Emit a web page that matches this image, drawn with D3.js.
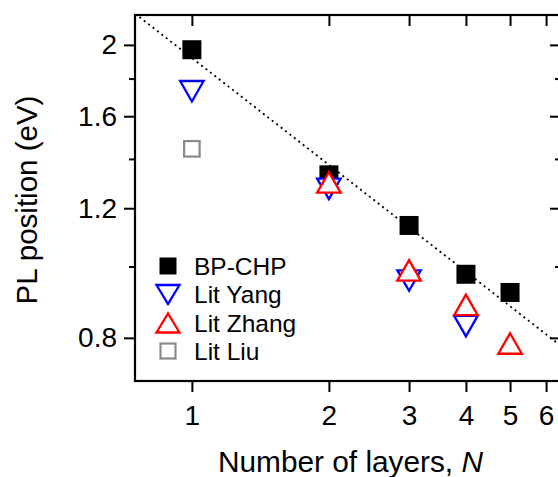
<!DOCTYPE html>
<html>
<head>
<meta charset="utf-8">
<script src="https://cdn.jsdelivr.net/npm/d3@7"></script>
<style>
  html, body { margin: 0; padding: 0; background: #fff; }
  svg { display: block; }
  text { font-family: "Liberation Sans", Arial, Helvetica, sans-serif; fill: #000; }
</style>
</head>
<body>
<svg id="chart" width="558" height="477"></svg>
<script>
// ---- data ----
const bpN = [1, 2, 3, 4, 5];
const bpE = [1.97, 1.332, 1.137, 0.976, 0.922];
const yangN = [1, 2, 3, 4];
const yangE = [1.73, 1.275, 0.957, 0.830];
const zhangN = [2, 3, 4, 5];
const zhangE = [1.301, 0.988, 0.887, 0.786];
const liuN = [1];
const liuE = [1.445];
const fitN = [0.75, 6.47];
const fitE = [2.206, 0.780];
const xTicks = [1, 2, 3, 4, 5, 6];
const yMajor = [0.8, 1.2, 1.6, 2.0];
const yMinor = [1.0, 1.4, 1.8];
const yTickLabels = ["0.8", "1.2", "1.6", "2"];
const legendLabels = ["BP-CHP", "Lit Yang", "Lit Zhang", "Lit Liu"];

// ---- layout ----
const L = 135, R = 561, T = 15, B = 381;
const svg = d3.select("#chart");
const x = d3.scaleLog().domain([0.75, 6.47]).range([L, R]);
const y = d3.scaleLog().domain([0.699, 2.196]).range([B, T]);

const defs = svg.append("defs");
defs.append("clipPath").attr("id", "plotclip")
  .append("rect").attr("x", L).attr("y", T).attr("width", R - L).attr("height", B - T);

// fit line (dotted)
svg.append("path")
  .attr("clip-path", "url(#plotclip)")
  .attr("d", d3.line().x(d => x(d[0])).y(d => y(d[1]))(fitN.map((n, i) => [n, fitE[i]])))
  .attr("fill", "none").attr("stroke", "#000").attr("stroke-width", 1.8)
  .attr("stroke-dasharray", "2,3.6");

// axes
const fmt = d => yTickLabels[yMajor.indexOf(d)];
const axB = svg.append("g").attr("transform", `translate(0,${B})`)
  .call(d3.axisBottom(x).tickValues(xTicks).tickFormat(d3.format("d")).tickSizeOuter(0).tickSizeInner(11).tickPadding(13));
const axT = svg.append("g").attr("transform", `translate(0,${T})`)
  .call(d3.axisBottom(x).tickValues(xTicks).tickFormat("").tickSizeOuter(0).tickSizeInner(11));
const axL = svg.append("g").attr("transform", `translate(${L},0)`)
  .call(d3.axisLeft(y).tickValues(yMajor).tickFormat(fmt).tickSizeOuter(0).tickSizeInner(11).tickPadding(7));
const axLm = svg.append("g").attr("transform", `translate(${L},0)`)
  .call(d3.axisLeft(y).tickValues(yMinor).tickFormat("").tickSizeOuter(0).tickSizeInner(6));
const axR = svg.append("g").attr("transform", `translate(${R},0)`)
  .call(d3.axisLeft(y).tickValues(yMajor).tickFormat("").tickSizeOuter(0).tickSizeInner(11).tickPadding(9));
const axRm = svg.append("g").attr("transform", `translate(${R},0)`)
  .call(d3.axisLeft(y).tickValues(yMinor).tickFormat("").tickSizeOuter(0).tickSizeInner(6));
[axB, axT, axL, axLm, axR, axRm].forEach(g => {
  g.attr("font-size", 28).attr("font-family", '"Liberation Sans", Arial, sans-serif');
  g.select(".domain").remove();
  g.selectAll("line").attr("stroke", "#000").attr("stroke-width", 2);
  g.selectAll("text").attr("fill", "#000");
});
// frame
svg.append("rect").attr("x", L).attr("y", T).attr("width", R - L).attr("height", B - T)
  .attr("fill", "none").attr("stroke", "#000").attr("stroke-width", 2.2);

// markers
const SQ = 19, TW = 23.5, TH = 20.5;
const g = svg.append("g").attr("clip-path", "url(#plotclip)");
function sq(sel, nArr, eArr, fill, stroke, size, sw) {
  sel.selectAll(null).data(nArr.map((n, i) => [n, eArr[i]])).enter().append("rect")
    .attr("x", d => x(d[0]) - size / 2).attr("y", d => y(d[1]) - size / 2)
    .attr("width", size).attr("height", size)
    .attr("fill", fill).attr("stroke", stroke).attr("stroke-width", sw);
}
function tri(sel, nArr, eArr, color, down) {
  sel.selectAll(null).data(nArr.map((n, i) => [n, eArr[i]])).enter().append("path")
    .attr("d", d => {
      const cx = x(d[0]), cy = y(d[1]);
      return down
        ? `M${cx - TW / 2},${cy - TH / 2}L${cx + TW / 2},${cy - TH / 2}L${cx},${cy + TH / 2}Z`
        : `M${cx - TW / 2},${cy + TH / 2}L${cx + TW / 2},${cy + TH / 2}L${cx},${cy - TH / 2}Z`;
    })
    .attr("fill", "#fff").attr("stroke", color).attr("stroke-width", 2.3).attr("stroke-linejoin", "miter");
}
sq(g, bpN, bpE, "#000", "none", SQ, 0);
sq(g, liuN, liuE, "#fff", "#8a8a8a", 15.5, 2.2);
tri(g, yangN, yangE, "#0000ff", true);
tri(g, zhangN, zhangE, "#ff0000", false);

// legend
const lgX = 168, lgTextX = 194;
const lgY = [266, 294.5, 323, 351];
const lg = svg.append("g");
lg.append("rect").attr("x", lgX - 8.5).attr("y", lgY[0] - 8.5).attr("width", 17).attr("height", 17).attr("fill", "#000");
lg.append("path").attr("d", `M${lgX - 11.5},${lgY[1] - 9.5}L${lgX + 11.5},${lgY[1] - 9.5}L${lgX},${lgY[1] + 9.5}Z`)
  .attr("fill", "#fff").attr("stroke", "#0000ff").attr("stroke-width", 2.3);
lg.append("path").attr("d", `M${lgX - 11.5},${lgY[2] + 9.5}L${lgX + 11.5},${lgY[2] + 9.5}L${lgX},${lgY[2] - 9.5}Z`)
  .attr("fill", "#fff").attr("stroke", "#ff0000").attr("stroke-width", 2.3);
lg.append("rect").attr("x", lgX - 7.5).attr("y", lgY[3] - 7.5).attr("width", 15).attr("height", 15)
  .attr("fill", "#fff").attr("stroke", "#8a8a8a").attr("stroke-width", 2.2);
lg.selectAll("text.lab").data(legendLabels).enter().append("text")
  .attr("x", lgTextX).attr("y", (d, i) => lgY[i] + 8.8)
  .style("font-size", "24.5px").text(d => d);

// axis titles
const xt = svg.append("text").attr("x", 218).attr("y", 472).style("font-size", "29.8px");
xt.append("tspan").text("Number of layers, ");
xt.append("tspan").style("font-style", "italic").text("N");
svg.append("text").attr("transform", "translate(37,200) rotate(-90)")
  .attr("text-anchor", "middle").style("font-size", "29.5px").text("PL position (eV)");
</script>
</body>
</html>
